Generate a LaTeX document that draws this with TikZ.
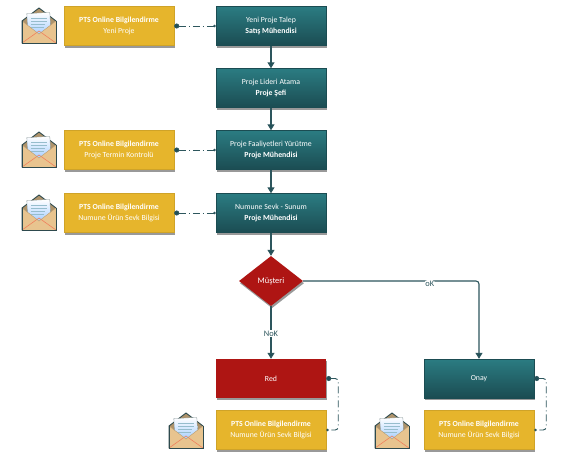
\documentclass[tikz,border=0pt]{standalone}
\usepackage{fontspec}
\setmainfont{Carlito}
\usetikzlibrary{shapes.geometric,shadows,arrows.meta,calc}
\definecolor{tealtop}{HTML}{2B7C82}
\definecolor{tealbot}{HTML}{1B4C52}
\definecolor{tealline}{HTML}{1F4F57}
\definecolor{goldbox}{HTML}{E6B52C}
\definecolor{redbox}{HTML}{AE1513}
\definecolor{envbody}{HTML}{E8C48F}
\definecolor{envedge}{HTML}{2E4A4E}
\tikzset{
  softshadow/.style={drop shadow={shadow xshift=1pt,shadow yshift=-2.2pt,fill=black,opacity=.4}},
  tealbox/.style={rectangle,minimum width=110pt,minimum height=39pt,inner sep=0pt,align=center,
    top color=tealtop,bottom color=tealbot,draw=tealbot,line width=.4pt,text=white,softshadow,font=\fontsize{7.8}{11}\selectfont},
  goldnode/.style={rectangle,minimum width=110pt,minimum height=39pt,inner sep=0pt,align=center,
    fill=goldbox,draw=goldbox!90!black,line width=.4pt,text=white,softshadow,font=\fontsize{7.8}{11}\selectfont},
  redrect/.style={rectangle,minimum width=110pt,minimum height=39pt,inner sep=0pt,align=center,
    fill=redbox,text=white,softshadow,font=\fontsize{7.8}{11}\selectfont},
  decision/.style={diamond,aspect=1.28,minimum width=64pt,minimum height=50pt,inner sep=0pt,
    fill=redbox,text=white,softshadow,font=\fontsize{8.4}{10}\selectfont},
  flow/.style={draw=tealline!85!gray,line width=1.1pt,-{Triangle[length=6pt,width=7pt,fill=tealline]}},
  link/.style={draw=tealline!85!gray,line width=.9pt,dash pattern=on 7pt off 3pt on 1pt off 3pt,
    {Circle[length=5pt,fill=tealline]}-{Circle[length=2.4pt,fill=tealline]}},
  flowlabel/.style={fill=white,inner sep=.8pt,text=tealline!85!gray,font=\fontsize{8.4}{9}\selectfont},
  envelope/.pic={
    \draw[envedge,line width=.9pt,fill=envbody!75!black] (-17,-5) -- (0,-18) -- (17,-5) -- (17,17) -- (-17,17) -- cycle;
    \draw[envedge!60,line width=.3pt,top color=white,bottom color=cyan!45!blue!35,rotate=3] (-11.5,-13) -- (11.5,-13) -- (11.5,8) -- (-11.5,8) -- cycle;
    \draw[cyan!40!gray!70,line width=.5pt] (-8,-8) -- (8,-8) (-8,-5) -- (8,-5) (-8,-2) -- (6,-2) (-8,1) -- (5,1);
    \fill[envbody] (-17,-5) -- (0,8) -- (17,-5) -- (17,17) -- (-17,17) -- cycle;
    \draw[red!35!envbody,line width=.6pt] (-17,17) -- (0,5) -- (17,17);
    \draw[envbody!80!black,line width=.4pt] (-17,-5) -- (0,8) -- (17,-5);
    \draw[envedge,line width=.9pt] (-17,-5) -- (-17,17) -- (17,17) -- (17,-5);
  }
}
\begin{document}
\begin{tikzpicture}[x=1pt,y=-1pt]
\useasboundingbox[fill=white] (0,0) rectangle (574,466);
% main flow
\node[tealbox] (talep) at (271,26) {Yeni Proje Talep\\\textbf{Satış Mühendisi}};
\node[tealbox] (atama) at (271,88) {Proje Lideri Atama\\\textbf{Proje Şefi}};
\node[tealbox] (yurutme) at (271,150) {Proje Faaliyetleri Yürütme\\\textbf{Proje Mühendisi}};
\node[tealbox] (sunum) at (271,213) {Numune Sevk - Sunum\\\textbf{Proje Mühendisi}};
\node[decision] (musteri) at (271,281) {Müşteri};
\node[redrect] (red) at (271,378.5) {Red};
\node[tealbox] (onay) at (479,378.5) {Onay};
% notification boxes
\node[goldnode] (pts1) at (119,26) {\textbf{PTS Online Bilgilendirme}\\Yeni Proje};
\node[goldnode] (pts2) at (119,150) {\textbf{PTS Online Bilgilendirme}\\Proje Termin Kontrolü};
\node[goldnode] (pts3) at (119,213) {\textbf{PTS Online Bilgilendirme}\\Numune Ürün Sevk Bilgisi};
\node[goldnode] (pts4) at (271,430) {\textbf{PTS Online Bilgilendirme}\\Numune Ürün Sevk Bilgisi};
\node[goldnode] (pts5) at (479,430) {\textbf{PTS Online Bilgilendirme}\\Numune Ürün Sevk Bilgisi};
% envelopes
\pic at (39,26) {envelope};
\pic at (39,150) {envelope};
\pic at (39,213) {envelope};
\pic at (186,431) {envelope};
\pic at (392,431) {envelope};
% connectors
\draw[flow] (talep) -- (atama);
\draw[flow] (atama) -- (yurutme);
\draw[flow] (yurutme) -- (sunum);
\draw[flow] (sunum) -- (musteri);
\draw[flow] (musteri) -- node[flowlabel,pos=.52]{NoK} (red);
\draw[flow,rounded corners=3pt] (musteri.east) -- node[flowlabel,pos=.72,yshift=-2.5pt]{oK} (musteri.east -| onay.north) -- (onay.north);
\draw[link] (pts1.east) -- (talep.west);
\draw[link] (pts2.east) -- (yurutme.west);
\draw[link] (pts3.east) -- (sunum.west);
\draw[link,rounded corners=3pt] (red.east) -- ++(12,0) -- ++(0,51.5) -- (pts4.east);
\draw[link,rounded corners=3pt] (onay.east) -- ++(12,0) -- ++(0,51.5) -- (pts5.east);
\end{tikzpicture}
\end{document}
